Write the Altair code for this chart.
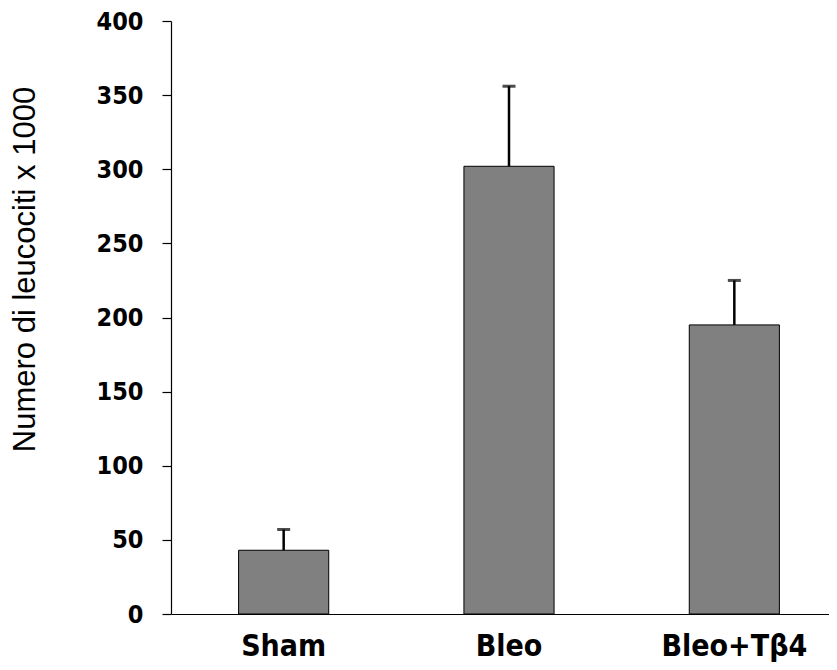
import altair as alt
import pandas as pd

groups = ["Sham", "Bleo", "Bleo+Tβ4"]
means = [43, 302, 195]
upper = [57, 356, 225]

df = pd.DataFrame({"group": groups, "mean": means, "upper": upper})

x_enc = alt.X(
    "group:N",
    sort=groups,
    scale=alt.Scale(range=[0, 676], paddingInner=0.6, paddingOuter=0.3),
    axis=alt.Axis(
        title=None,
        labelAngle=0,
        ticks=False,
        labelPadding=41,
        labelFont="DejaVu Sans Condensed, DejaVu Sans",
        labelFontWeight="bold",
        labelFontSize=30,
        labelColor="black",
        domainColor="black",
        domainWidth=1.2,
        labelBaseline="alphabetic",
    ),
)

y_scale = alt.Scale(domain=[0, 400], nice=False)

bars = alt.Chart(df).mark_bar(color="#808080", stroke="black", strokeWidth=1).encode(
    x=x_enc,
    y=alt.Y(
        "mean:Q",
        scale=y_scale,
        axis=alt.Axis(
            title="Numero di leucociti x 1000",
            values=[0, 50, 100, 150, 200, 250, 300, 350, 400],
            grid=False,
            tickSize=9,
            tickColor="black",
            tickWidth=1.2,
            domainColor="black",
            domainWidth=1.2,
            labelPadding=19,
            labelFont="DejaVu Sans Condensed, DejaVu Sans",
            labelFontWeight="bold",
            labelFontSize=25,
            labelColor="black",
            titleFont="Liberation Sans",
            titleFontWeight="normal",
            titleFontSize=31,
            titleColor="black",
            titleAngle=270,
            titleAlign="center",
            titleBaseline="middle",
            titleX=-146,
            titleY=248,
        ),
    ),
)

stems = alt.Chart(df).mark_rule(color="black", strokeWidth=2.5).encode(
    x=alt.X("group:N", sort=groups),
    y=alt.Y("mean:Q", scale=y_scale),
    y2="upper:Q",
)

caps = alt.Chart(df).mark_tick(color="black", size=13, thickness=3).encode(
    x=alt.X("group:N", sort=groups),
    y=alt.Y("upper:Q", scale=y_scale),
)

chart = (
    alt.layer(bars, stems, caps)
    .properties(
        width=658,
        height=593,
        autosize=alt.AutoSizeParams(type="none"),
        padding={"left": 163, "top": 13, "right": 0, "bottom": 48},
    )
    .configure_view(stroke=None)
)

chart.save("out.html", embed_options={"renderer": "svg", "actions": False})
